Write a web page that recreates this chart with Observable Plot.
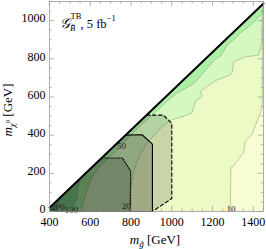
<!DOCTYPE html>
<html><head><meta charset="utf-8">
<script src="https://cdn.jsdelivr.net/npm/d3@7"></script>
<script src="https://cdn.jsdelivr.net/npm/@observablehq/plot@0.6"></script>
<style>
html,body{margin:0;padding:0;background:#fff;}
#chart{width:266px;height:249px;position:relative;}
svg{display:block;}
#chart svg, #chart svg text{font-family:"Liberation Serif","Times New Roman",serif !important;}
</style></head><body><div id="chart"></div>
<script>
// kinematic boundary (diagonal)
const diagonal = [[400,20],[1450,1090]];
// significance contours (m_gluino, m_neutralino) in GeV
const contour10 = [[1287,0],[1290,230],[1303,239],[1352,308],[1361,369],[1394,404],[1443,542],[1445,930],[1450,1070]];
const contour20 = [[790,0],[795,100],[810,200],[840,290],[880,360],[930,420],[970,460],[1001,481],[1060,500],[1099,516],[1116,577],[1148,603],[1140,629],[1180,660],[1222,689],[1287,715],[1296,727],[1304,784],[1361,810],[1426,819],[1443,888],[1443,1044],[1450,1080]];
const contour50 = [[555,0],[562,40],[575,80],[585,110],[600,160],[620,200],[660,250],[710,300],[755,350],[800,400],[850,455],[900,500],[960,560],[1000,600],[1040,630],[1060,640],[1100,665],[1125,690],[1150,720],[1195,775],[1215,800],[1240,815],[1270,870],[1320,915],[1330,930],[1385,975],[1443,1036],[1450,1050]];
const contour100 = [[512,0],[519,22],[536,74],[544,143],[555,178]];
const contour200 = [[437,0],[440,20],[445,40],[448,69]];
// exclusion regions
const regionDashed = [[400,0],[400,20],[876,505],[958,505],[1000,462],[1000,68],[905,0]];
const regionSolid = [[400,0],[400,20],[773,400],[854,402],[905,353],[905,0]];
const regionDotted = [[400,0],[400,20],[655,280],[758,280],[798,213],[798,0]];
// labels
const contourLabels = [
  {x:1291,y:14,text:"10"},{x:776,y:30,text:"20"},{x:753,y:343,text:"50"},
  {x:508,y:7,text:"100"},{x:442,y:23,text:"200"}
];
const xTicks = [400,600,800,1000,1200,1400];
const yTicks = [0,200,400,600,800,1000];
const xMinor = d3.range(400,1451,50);
const yMinor = d3.range(0,1101,50);

const serif = "Liberation Serif";
const X = d=>d[0], Y = d=>d[1];
const poly = (pts, fill, o={}) => Plot.line(pts, {x:X, y:Y, fill, stroke:"none", curve:"linear-closed", ...o});
const yEnd = [1450,1090], yStart=[400,20];

const chart = Plot.plot({
  width: 266, height: 249,
  marginLeft: 49, marginRight: 3, marginTop: 1, marginBottom: 38,
  x: {domain: [400,1450]},
  y: {domain: [0,1100]},
  style: {background:"transparent", fontFamily:serif, color:"#000"},
  marks: [
    poly([[400,0],yStart,yEnd,[1450,0]], "#ecfbc5"),
    poly([...contour10,[1450,0]], "#f9fdd3"),
    poly([[400,0],...contour20,yStart], "#d4f8c0"),
    poly([[400,0],...contour50,yEnd,yStart], "#abf0a4"),
    poly([[400,0],...contour100,yStart], "#86d68c"),
    poly([[400,0],...contour200,yStart], "#66be76"),
    ...[contour10,contour20,contour50,contour100,contour200].map(c=>Plot.line(c,{x:X,y:Y,stroke:"#90a880",strokeWidth:0.6})),
    poly(regionDashed, "#000", {fillOpacity:0.15}),
    poly(regionSolid, "#000", {fillOpacity:0.2}),
    poly(regionDotted, "#000", {fillOpacity:0.2}),
    Plot.line(regionDashed.slice(2).concat([[905,0]]), {x:X,y:Y,stroke:"#000",strokeWidth:1.1,strokeDasharray:"3.5,2.5"}),
    Plot.line(regionSolid.slice(2).concat([[905,0]]), {x:X,y:Y,stroke:"#000",strokeWidth:1.1}),
    Plot.line(regionDotted.slice(2), {x:X,y:Y,stroke:"#000",strokeWidth:1.1,strokeDasharray:"1,1.5"}),
    Plot.line([[400,0],[905,0]], {x:X,y:Y,stroke:"#000",strokeWidth:1.1}),
    Plot.line(diagonal, {x:X,y:Y,stroke:"#000",strokeWidth:2}),
    Plot.text(contourLabels, {x:"x",y:"y",text:"text",fontSize:9,fill:"#222",fontFamily:serif}),
    Plot.frame({stroke:"#999", strokeWidth:0.8}),
    Plot.ruleX(xMinor, {x:d=>d, y1:0, y2:d=>d%200===0?27:14, stroke:"#999", strokeWidth:0.7}),
    Plot.ruleX(xMinor, {x:d=>d, y1:d=>d%200===0?1073:1086, y2:1100, stroke:"#999", strokeWidth:0.7}),
    Plot.ruleY(yMinor, {y:d=>d, x1:400, x2:d=>d%200===0?425:412, stroke:"#999", strokeWidth:0.7}),
    Plot.ruleY(yMinor, {y:d=>d, x1:d=>d%200===0?1425:1438, x2:1450, stroke:"#999", strokeWidth:0.7}),
    Plot.axisX(xTicks, {tickSize:0, tickPadding:6, fontSize:12, fontFamily:serif, tickFormat:d=>String(d), label:null}),
    Plot.axisY(yTicks, {tickSize:0, tickPadding:4, dy:-2, fontSize:12, fontFamily:serif, tickFormat:d=>String(d), label:null})
  ]
});
document.getElementById("chart").appendChild(chart);
const svg = d3.select(chart);
// title as a single text element
const t = svg.append("text").attr("x",60).attr("y",28).attr("text-anchor","start").attr("font-family", serif).attr("font-size",12.5).attr("fill","#000");
t.append("tspan").attr("font-style","italic").attr("font-size",14).text("𝒢");
t.append("tspan").attr("font-size",8.5).attr("dx",0.5).attr("dy",-9).text("TB");
t.append("tspan").attr("font-size",8.5).attr("font-style","italic").attr("dx",-11.5).attr("dy",12).text("B̃");
t.append("tspan").attr("font-size",12.5).attr("dx",5.5).attr("dy",-3).text(", 5 fb");
t.append("tspan").attr("font-size",8.5).attr("dy",-7).text("−1");
// x label
const xl = svg.append("text").attr("x",155).attr("y",244).attr("text-anchor","middle").attr("font-family",serif).attr("font-size",13);
xl.append("tspan").attr("font-style","italic").text("m");
xl.append("tspan").attr("font-style","italic").attr("font-size",9).attr("dy",3).text("g̃");
xl.append("tspan").attr("dy",-3).text(" [GeV]");
// y label
const yl = svg.append("text").attr("transform","translate(12,110) rotate(-90)").attr("text-anchor","middle").attr("font-family",serif).attr("font-size",13);
yl.append("tspan").attr("font-style","italic").text("m");
yl.append("tspan").attr("font-style","italic").attr("font-size",9).attr("dy",3).text("χ");
yl.append("tspan").attr("font-size",6.5).attr("dy",-5).text("0");
yl.append("tspan").attr("dy",2).text(" [GeV]");
</script></body></html>
